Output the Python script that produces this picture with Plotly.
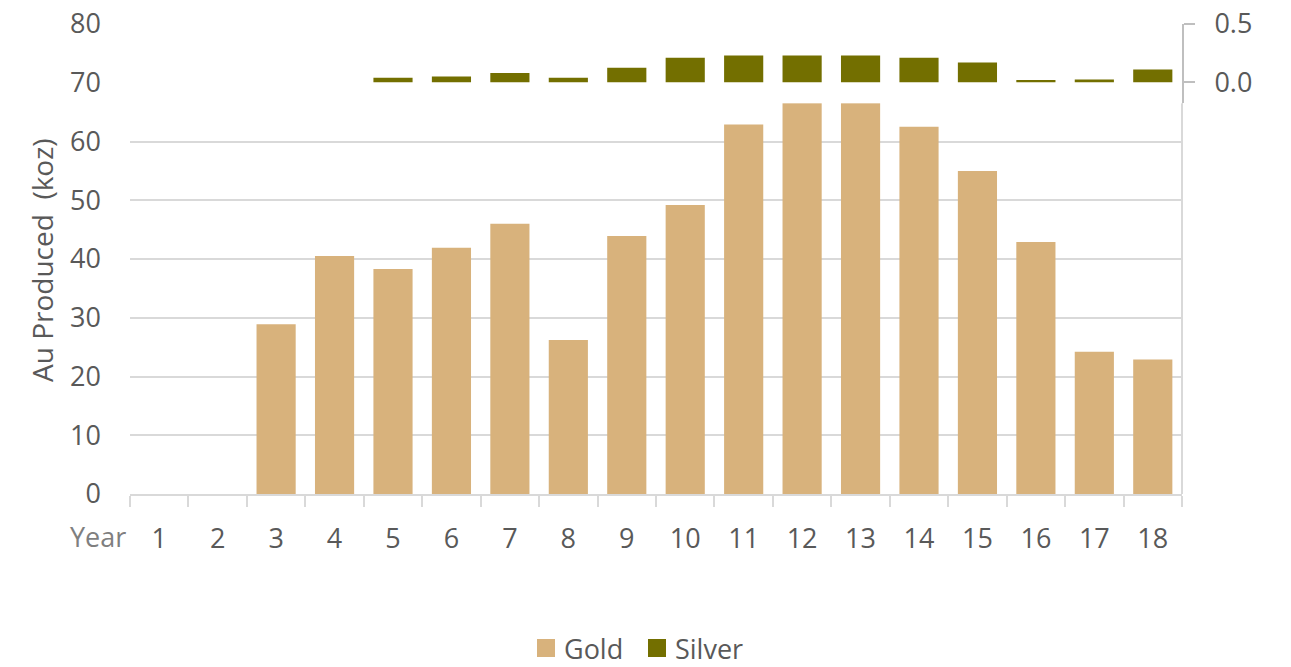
import plotly.graph_objects as go

# Annual production by mine year
years = [str(i) for i in range(1, 19)]
gold_koz = [0, 0, 28.9, 40.5, 38.3, 41.9, 46.0, 26.2, 43.9, 49.2,
            62.9, 67.2, 66.7, 62.5, 55.0, 42.9, 24.2, 22.9]
silver_moz = [0, 0, 0, 0, 0.04, 0.05, 0.08, 0.04, 0.125, 0.21,
              0.23, 0.23, 0.23, 0.21, 0.17, 0.02, 0.025, 0.11]
series_names = ["Gold", "Silver"]

GOLD = "#D8B27C"
SILVER = "#736F00"
TEXT = "#595959"
GRID = "#D9D9D9"
FONT = "Open Sans"

W, H = 1291, 667
ML, MR, MT, MB = 130, 109, 24, 173
PW, PH = W - ML - MR, H - MT - MB


def px_x(px):
    return (px - ML) / PW


def px_y(py):
    return (H - MB - py) / PH


fig = go.Figure()
fig.add_trace(go.Bar(
    x=years, y=gold_koz, name=series_names[0], marker_color=GOLD,
    marker_line_width=0, width=0.67, xaxis="x", yaxis="y", showlegend=False,
))
fig.add_trace(go.Bar(
    x=years, y=silver_moz, name=series_names[1], marker_color=SILVER,
    marker_line_width=0, width=0.67, xaxis="x", yaxis="y2", showlegend=False,
))

# legend drawn as swatches + labels below the plot
legend_shapes, legend_notes = [], []
for name, color, x0 in zip(series_names, [GOLD, SILVER], [537, 648]):
    legend_shapes.append(dict(
        type="rect", xref="paper", yref="paper",
        x0=px_x(x0), x1=px_x(x0 + 18), y0=px_y(657), y1=px_y(639),
        fillcolor=color, line=dict(width=0),
    ))
    legend_notes.append(dict(
        text=name, xref="paper", yref="paper", x=px_x(x0 + 25), y=px_y(648),
        xanchor="left", yanchor="middle", showarrow=False,
        font=dict(size=27, color=TEXT),
    ))

fig.update_layout(
    width=W, height=H,
    margin=dict(l=ML, r=MR, t=MT, b=MB, autoexpand=False),
    paper_bgcolor="white", plot_bgcolor="white",
    font=dict(family=FONT, size=27, color=TEXT),
    barmode="overlay",
    showlegend=False,
    xaxis=dict(
        type="category", showgrid=False, showline=True, linecolor=GRID, linewidth=2,
        ticks="outside", tickson="boundaries", ticklen=11, tickcolor=GRID, tickwidth=2,
        ticklabelstandoff=20, tickfont=dict(size=27, color=TEXT),
    ),
    yaxis=dict(
        range=[0, 80], dtick=10, showgrid=True, gridcolor=GRID, gridwidth=2,
        zeroline=False, showline=False, ticks="", ticklabelstandoff=28,
        tickfont=dict(size=27, color=TEXT),
    ),
    yaxis2=dict(
        domain=[0.8312, 1.0], range=[-0.18, 0.5], anchor="x", side="right",
        tickvals=[0, 0.5], ticktext=["0.0", "0.5"], showgrid=False, zeroline=False,
        showline=True, linecolor="#BFBFBF", linewidth=2,
        ticks="outside", ticklen=11, tickcolor="#BFBFBF", tickwidth=2,
        ticklabelstandoff=14, tickfont=dict(size=27, color=TEXT),
    ),
    shapes=[
        # light frame on the right edge of the plot area
        dict(type="line", xref="paper", yref="paper", x0=1, x1=1, y0=0, y1=1,
             line=dict(color=GRID, width=2), layer="below"),
    ] + legend_shapes,
    annotations=[
        dict(text="Au Produced  (koz)", xref="paper", yref="paper",
             x=px_x(42), y=px_y(260), textangle=-90, showarrow=False,
             xanchor="center", yanchor="middle", font=dict(size=28, color=TEXT)),
        dict(text="Year", xref="paper", yref="paper", x=px_x(98), y=px_y(536),
             xanchor="center", yanchor="middle", showarrow=False,
             font=dict(size=27, color="#7F7F7F")),
    ] + legend_notes,
)

fig.write_html("out.html")
